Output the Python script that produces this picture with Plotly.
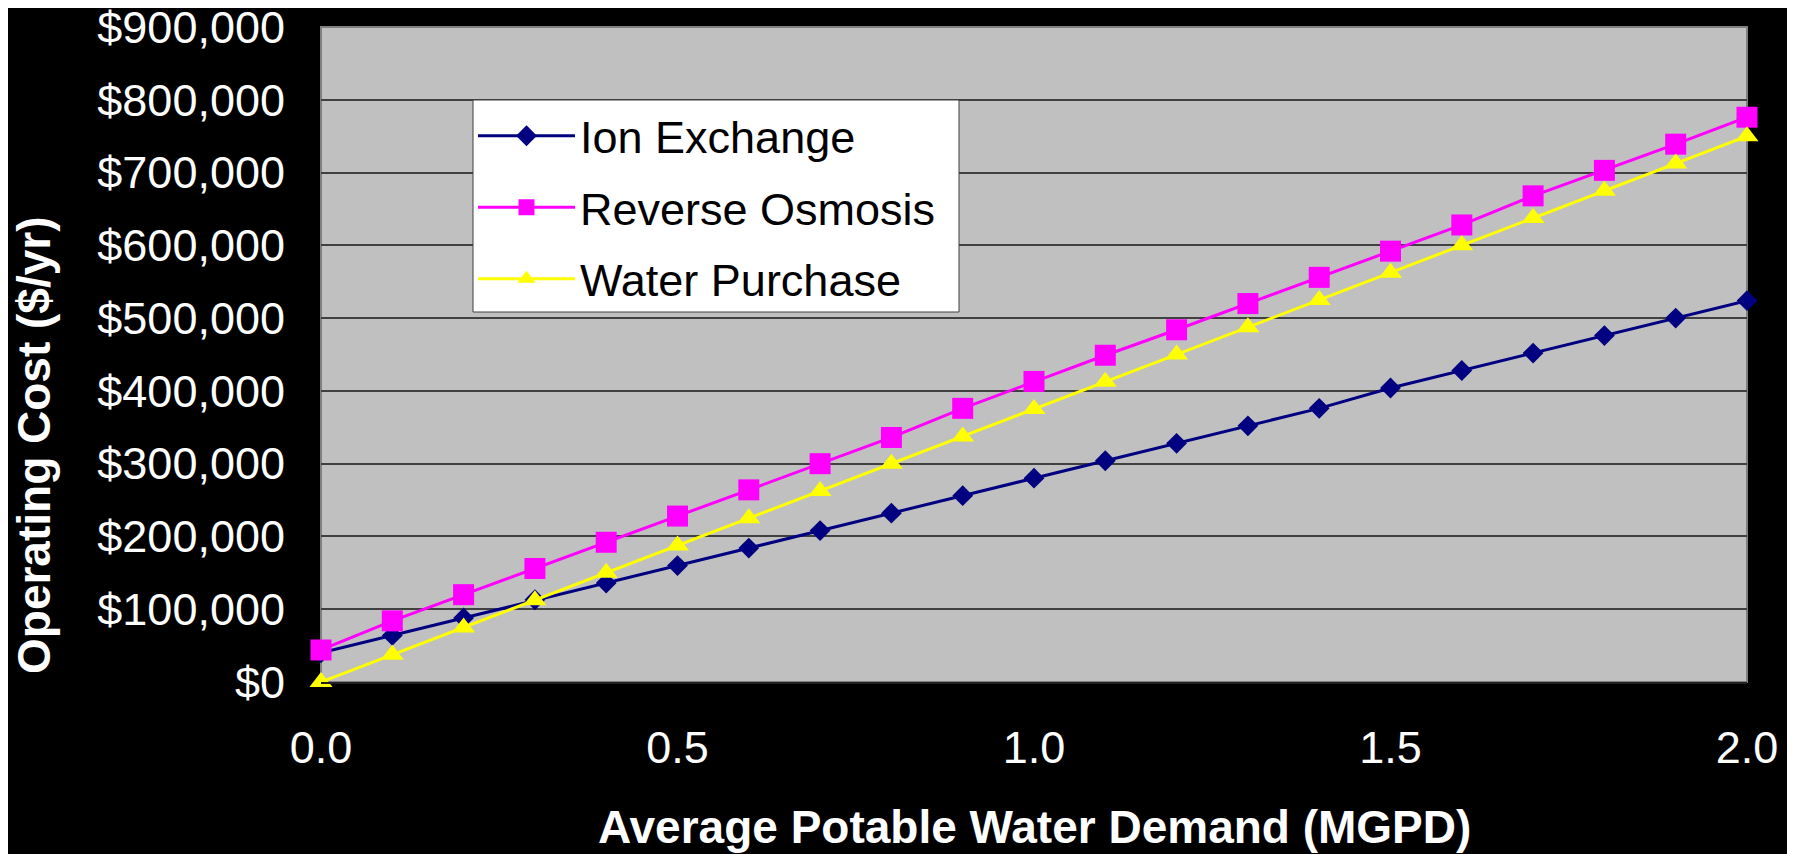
import plotly.graph_objects as go

# ---- data ----
demand_mgpd = [0.0, 0.1, 0.2, 0.3, 0.4, 0.5, 0.6, 0.7, 0.8, 0.9, 1.0,
               1.1, 1.2, 1.3, 1.4, 1.5, 1.6, 1.7, 1.8, 1.9, 2.0]
ion_exchange = [40000, 64000, 88000, 113000, 136000, 160000, 184000, 208000,
                232000, 256000, 280000, 304000, 328000, 352000, 376000,
                404000, 428000, 452000, 476000, 500000, 524000]
reverse_osmosis = [44000, 84000, 120000, 156000, 192000, 228000, 264000,
                   300000, 336000, 376000, 413000, 449000, 484000, 520000,
                   556000, 592000, 628000, 668000, 703000, 739000, 776000]
water_purchase = [0, 37500, 75000, 112500, 150000, 187500, 225000, 262500,
                  300000, 337500, 375000, 412500, 450000, 487500, 525000,
                  562500, 600000, 637500, 675000, 712500, 750000]

series_names = ["Ion Exchange", "Reverse Osmosis", "Water Purchase"]
x_tick_vals = [0.0, 0.5, 1.0, 1.5, 2.0]
x_tick_text = ["0.0", "0.5", "1.0", "1.5", "2.0"]
y_tick_vals = [0, 100000, 200000, 300000, 400000, 500000, 600000, 700000, 800000, 900000]
y_tick_text = ["$0", "$100,000", "$200,000", "$300,000", "$400,000", "$500,000",
               "$600,000", "$700,000", "$800,000", "$900,000"]
x_title = "Average Potable Water Demand (MGPD)"
y_title = "Operating Cost ($/yr)"

FONT = "Liberation Sans, Arial, sans-serif"

# page body has an 8px default margin; figure sized to fill the rest
W, H = 1787, 846
ML, MR, MT, MB = 313, 48, 19, 172
PW = W - ML - MR
PH = H - MT - MB


def px_x(v):
    return (v - ML) / PW


def px_y(v):
    return (MT + PH - v) / PH


fig = go.Figure()
styles = [
    dict(color="#000080", symbol="diamond", size=16),
    dict(color="#FF00FF", symbol="square", size=21),
    dict(color="#FFFF00", symbol="triangle-up", size=20),
]
for i, (name, vals, st) in enumerate(zip(series_names,
                                         [ion_exchange, reverse_osmosis, water_purchase],
                                         styles)):
    fig.add_trace(go.Scatter(
        x=demand_mgpd, y=vals, name=name, mode="lines+markers",
        line=dict(color=st["color"], width=3),
        marker=dict(color=st["color"], symbol=st["symbol"], size=st["size"],
                    line=dict(width=0)),
        cliponaxis=False, legendgroup=f"g{i}",
    ))

fig.update_layout(
    width=W, height=H,
    margin=dict(l=ML, r=MR, t=MT, b=MB, pad=0),
    paper_bgcolor="black",
    plot_bgcolor="#C0C0C0",
    font=dict(family=FONT, color="white", size=45),
    showlegend=True,
    legend=dict(
        x=px_x(465), y=px_y(92), xanchor="left", yanchor="top",
        bgcolor="rgba(0,0,0,0)", borderwidth=0,
        font=dict(family=FONT, color="black", size=45),
        itemwidth=97, tracegroupgap=10,
    ),
    xaxis=dict(
        range=[0, 2], tickmode="array", tickvals=x_tick_vals, ticktext=x_tick_text,
        showgrid=False, zeroline=False, showline=True, linecolor="#202020", linewidth=2,
        ticks="", ticklabelstandoff=25, automargin=False, ticklabeloverflow="allow",
        tickfont=dict(family=FONT, color="white", size=45),
    ),
    yaxis=dict(
        range=[0, 900000], tickmode="array", tickvals=y_tick_vals, ticktext=y_tick_text,
        showgrid=True, gridcolor="#404040", gridwidth=2, zeroline=False,
        showline=False, ticks="", ticklabelstandoff=35, automargin=False,
        ticklabeloverflow="allow",
        tickfont=dict(family=FONT, color="white", size=45),
    ),
    shapes=[
        dict(type="rect", xref="paper", yref="paper", x0=0, x1=1, y0=0, y1=1,
             line=dict(color="#808080", width=2), layer="between"),
        # legend box
        dict(type="rect", xref="paper", yref="paper",
             x0=px_x(465), x1=px_x(951), y0=px_y(304), y1=px_y(92),
             fillcolor="white", line=dict(color="#404040", width=1), layer="above"),
    ],
    annotations=[
        dict(text=f"<b>{x_title}</b>", xref="paper", yref="paper", x=0.5,
             y=px_y(819),
             xanchor="center", yanchor="middle", showarrow=False,
             font=dict(family=FONT, color="white", size=46)),
        dict(text=f"<b>{y_title}</b>", xref="paper", yref="paper",
             x=px_x(26), y=px_y(437), textangle=-90,
             xanchor="center", yanchor="middle", showarrow=False,
             font=dict(family=FONT, color="white", size=46)),
    ],
)

fig.write_html("out.html")
